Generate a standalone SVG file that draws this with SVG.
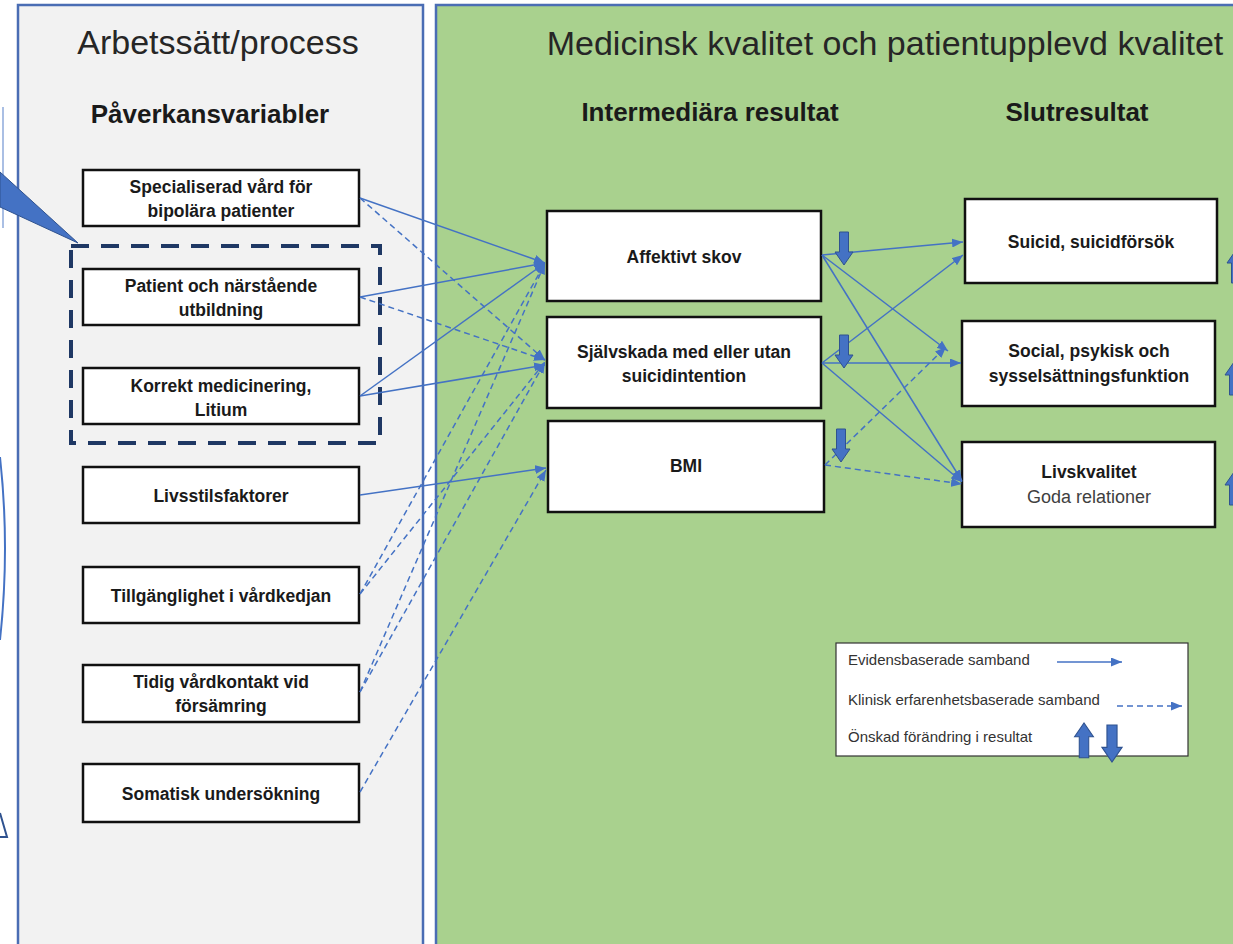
<svg xmlns="http://www.w3.org/2000/svg" xmlns:xlink="http://www.w3.org/1999/xlink" width="1233" height="944" viewBox="0 0 1233 944">
<style>
text{font-family:"Liberation Sans",Arial,sans-serif;fill:#1a1a1a}
.title{font-size:34px;text-anchor:middle;fill:#262626}
.sub{font-size:26px;font-weight:bold;text-anchor:middle}
.node rect{fill:#ffffff;stroke:#111111;stroke-width:2.5}
.node text{font-size:17.5px;font-weight:bold;text-anchor:middle}
.reg{font-weight:normal!important;fill:#404040!important;font-size:18px!important}
.c{fill:none;stroke:#4472c4;stroke-width:1.5}
.d{stroke-dasharray:6 4}
.leg{font-size:15px;fill:#333333}
.blk{fill:#4472c4;stroke:#2f528f;stroke-width:1}
</style>
<defs>
<marker id="ah" markerUnits="userSpaceOnUse" markerWidth="11" markerHeight="9" refX="11" refY="4.5" orient="auto">
<path d="M0,0 L11,4.5 L0,9 Z" fill="#4472c4"/>
</marker>
<path id="down" d="M-4.5,0 H4.5 V20 H9 L0,33 L-9,20 H-4.5 Z"/>
<path id="up" d="M-4.5,33 H4.5 V13 H9 L0,0 L-9,13 H-4.5 Z"/>
</defs>
<rect x="0" y="0" width="1233" height="944" fill="#ffffff"/>

<!-- off-canvas shapes at left edge -->
<g id="left-edge-shapes">
<line x1="3" y1="107" x2="3" y2="228" stroke="#8eaadb" stroke-width="1.5"/>
<path d="M0,457 Q10,548 0,640" fill="none" stroke="#4472c4" stroke-width="2"/>
<path d="M0,813 L7,837 L0,837" fill="none" stroke="#2f528f" stroke-width="2"/>
</g>

<!-- panels -->
<g id="panel-process">
<rect x="18" y="5" width="405" height="960" fill="#f2f2f2" stroke="#4a6db4" stroke-width="2.5"/>
<text class="title" x="218" y="54">Arbetssätt/process</text>
<text class="sub" x="210" y="123">Påverkansvariabler</text>
</g>
<g id="panel-quality">
<rect x="436" y="5" width="820" height="960" fill="#a9d18e" stroke="#4a6db4" stroke-width="2.5"/>
<text class="title" x="885" y="55">Medicinsk kvalitet och patientupplevd kvalitet</text>
<text class="sub" x="710" y="121">Intermediära resultat</text>
<text class="sub" x="1077" y="121">Slutresultat</text>
</g>

<!-- callout pointer -->
<g id="callout">
<polygon points="0,172 78,243 0,207" fill="#4472c4" stroke="#2f528f" stroke-width="1"/>
</g>

<!-- dashed grouping -->
<g id="group-box">
<rect x="71" y="246" width="309" height="197" fill="none" stroke="#1f3864" stroke-width="4" stroke-dasharray="18 12"/>
</g>

<!-- left nodes -->
<g id="n-specialiserad" class="node"><rect x="83" y="170" width="276" height="56"/><text x="221" y="193">Specialiserad vård för</text><text x="221" y="217">bipolära patienter</text></g>
<g id="n-patient" class="node"><rect x="83" y="269" width="276" height="56"/><text x="221" y="292">Patient och närstående</text><text x="221" y="316">utbildning</text></g>
<g id="n-korrekt" class="node"><rect x="83" y="368" width="276" height="56"/><text x="221" y="392">Korrekt medicinering,</text><text x="221" y="416">Litium</text></g>
<g id="n-livsstil" class="node"><rect x="83" y="467" width="276" height="56"/><text x="221" y="502">Livsstilsfaktorer</text></g>
<g id="n-tillganglighet" class="node"><rect x="83" y="567" width="276" height="56"/><text x="221" y="602">Tillgänglighet i vårdkedjan</text></g>
<g id="n-tidig" class="node"><rect x="83" y="665" width="276" height="57"/><text x="221" y="688">Tidig vårdkontakt vid</text><text x="221" y="712">försämring</text></g>
<g id="n-somatisk" class="node"><rect x="83" y="764" width="276" height="58"/><text x="221" y="800">Somatisk undersökning</text></g>

<!-- intermediate nodes -->
<g id="n-affektivt" class="node"><rect x="547" y="211" width="274" height="90"/><text x="684" y="263">Affektivt skov</text></g>
<g id="n-sjalvskada" class="node"><rect x="547" y="317" width="274" height="91"/><text x="684" y="358">Självskada med eller utan</text><text x="684" y="382">suicidintention</text></g>
<g id="n-bmi" class="node"><rect x="548" y="421" width="276" height="91"/><text x="686" y="472">BMI</text></g>

<!-- final nodes -->
<g id="n-suicid" class="node"><rect x="965" y="199" width="252" height="84"/><text x="1091" y="248">Suicid, suicidförsök</text></g>
<g id="n-social" class="node"><rect x="962" y="321" width="253" height="85"/><text x="1089" y="357">Social, psykisk och</text><text x="1089" y="382">sysselsättningsfunktion</text></g>
<g id="n-livskvalitet" class="node"><rect x="962" y="442" width="253" height="85"/><text x="1089" y="478">Livskvalitet</text><text class="reg" x="1089" y="503">Goda relationer</text></g>

<!-- connectors -->
<g id="connectors">
<line class="c" x1="360" y1="198" x2="545" y2="263" marker-end="url(#ah)"/>
<line class="c d" x1="360" y1="198" x2="545" y2="360" marker-end="url(#ah)"/>
<line class="c" x1="360" y1="297" x2="545" y2="263" marker-end="url(#ah)"/>
<line class="c d" x1="360" y1="297" x2="545" y2="360" marker-end="url(#ah)"/>
<line class="c" x1="360" y1="396" x2="545" y2="263" marker-end="url(#ah)"/>
<line class="c" x1="360" y1="396" x2="545" y2="365" marker-end="url(#ah)"/>
<line class="c" x1="360" y1="495" x2="546" y2="468" marker-end="url(#ah)"/>
<line class="c d" x1="360" y1="594" x2="545" y2="263" marker-end="url(#ah)"/>
<line class="c d" x1="360" y1="594" x2="545" y2="362" marker-end="url(#ah)"/>
<line class="c d" x1="360" y1="692" x2="545" y2="263" marker-end="url(#ah)"/>
<line class="c d" x1="360" y1="692" x2="545" y2="362" marker-end="url(#ah)"/>
<line class="c d" x1="360" y1="792" x2="546" y2="470" marker-end="url(#ah)"/>

<line class="c" x1="822" y1="255" x2="963" y2="242" marker-end="url(#ah)"/>
<line class="c" x1="822" y1="255" x2="948" y2="351" marker-end="url(#ah)"/>
<line class="c" x1="822" y1="255" x2="962" y2="481" marker-end="url(#ah)"/>
<line class="c" x1="822" y1="363" x2="963" y2="255" marker-end="url(#ah)"/>
<line class="c" x1="822" y1="363" x2="961" y2="363" marker-end="url(#ah)"/>
<line class="c" x1="822" y1="363" x2="962" y2="482" marker-end="url(#ah)"/>
<line class="c d" x1="825" y1="465" x2="946" y2="347" marker-end="url(#ah)"/>
<line class="c d" x1="825" y1="465" x2="962" y2="484" marker-end="url(#ah)"/>
</g>

<!-- change indicators -->
<g id="indicators">
<use href="#down" class="blk" x="844" y="232"/>
<use href="#down" class="blk" x="844" y="335"/>
<use href="#down" class="blk" x="841" y="429"/>
<use href="#up" class="blk" x="1236" y="250"/>
<use href="#up" class="blk" x="1234" y="362"/>
<use href="#up" class="blk" x="1234" y="472"/>
</g>

<!-- legend -->
<g id="legend">
<rect x="836" y="643" width="352" height="113" fill="#ffffff" stroke="#333333" stroke-width="1.2"/>
<text class="leg" x="848" y="665">Evidensbaserade samband</text>
<text class="leg" x="848" y="705">Klinisk erfarenhetsbaserade samband</text>
<text class="leg" x="848" y="742">Önskad förändring i resultat</text>
<line class="c" x1="1057" y1="662" x2="1122" y2="662" marker-end="url(#ah)"/>
<line class="c d" x1="1117" y1="706" x2="1182" y2="706" marker-end="url(#ah)"/>
<use href="#up" class="blk" x="1084" y="723" transform="translate(1084,723) scale(1.05) translate(-1084,-723)"/>
<use href="#down" class="blk" x="1112" y="725" transform="translate(1112,725) scale(1.12) translate(-1112,-725)"/>
</g>
</svg>
